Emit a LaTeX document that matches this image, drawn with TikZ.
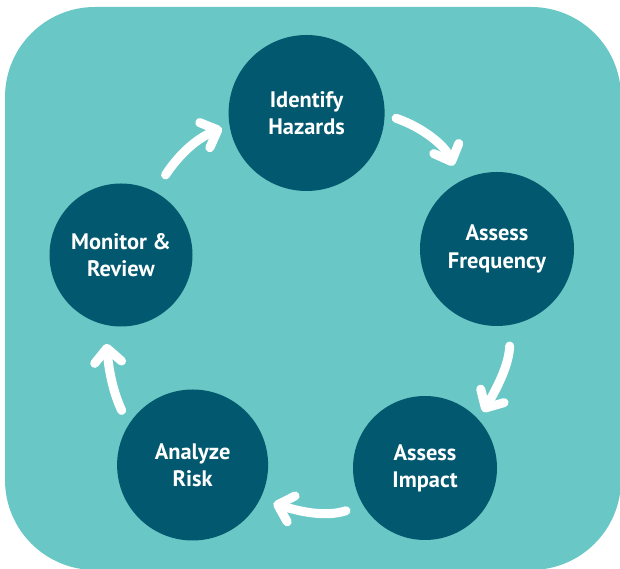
\documentclass[tikz,border=0pt]{standalone}
\usepackage{fontspec}
\setmainfont{PT Sans}
\usetikzlibrary{arrows.meta}
\definecolor{bgteal}{HTML}{69C8C6}
\definecolor{darkteal}{HTML}{02586E}
\begin{document}
\begin{tikzpicture}[x=1pt,y=1pt,
  stage/.style={circle, fill=darkteal, text=white, align=center, inner sep=0pt,
    font=\bfseries\fontsize{22.4}{27.3}\selectfont},
  flow/.style={draw=white, line width=9pt, line cap=round,
    -{Straight Barb[length=14pt, width=27pt, line width=9pt, round]}}]
\useasboundingbox (0,0) rectangle (620,569);
\fill[bgteal, rounded corners=90pt] (5,-1) rectangle (621,562);
\node[stage, minimum size=156pt] (ih) at (306.6,456) {Identify\\Hazards};
\node[stage, minimum size=154pt] (af) at (497,320) {Assess\\Frequency};
\node[stage, minimum size=144pt] (ai) at (425,101) {Assess\\Impact};
\node[stage, minimum size=151pt] (ar) at (192.6,104) {Analyze\\Risk};
\node[stage, minimum size=143pt] (mr) at (121,314) {Monitor \&\\Review};
\draw[flow, shorten <=12pt, shorten >=17pt] (ih.-1) to[out=-19, in=112] (af.119);
\draw[flow, shorten <=21pt, shorten >=9pt] (af.-80) to[out=-92, in=60] (ai.42);
\draw[flow, shorten <=18pt, shorten >=14pt] (ai.-149) to[out=-162, in=-17] (ar.-27);
\draw[flow, shorten <=16pt, shorten >=19pt] (ar.148) to[out=115, in=-85] (mr.-103);
\draw[flow, shorten <=20pt, shorten >=8pt] (mr.62) to[out=57, in=-158] (ih.189);
\end{tikzpicture}
\end{document}
